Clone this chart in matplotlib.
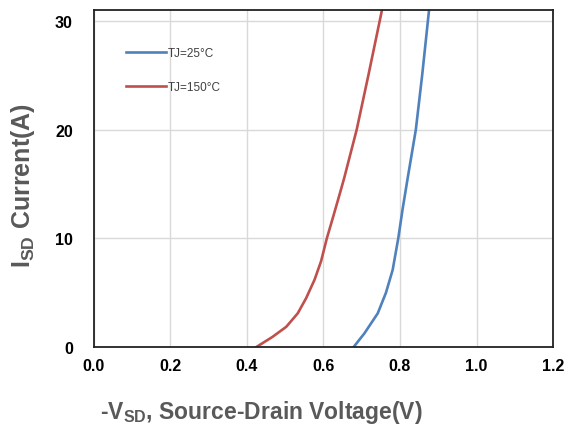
import matplotlib
matplotlib.use("Agg")
import matplotlib.pyplot as plt

plt.rcParams['font.family'] = ['Liberation Sans', 'DejaVu Sans']
plt.rcParams['mathtext.fontset'] = 'custom'
plt.rcParams['mathtext.rm'] = 'Liberation Sans'
plt.rcParams['mathtext.bf'] = 'Liberation Sans:bold'

# diode forward curves, current (A) vs -Vsd (V)
i_25 = [0, 1.25, 3.1, 5.0, 7.1, 10, 12.7, 15.5, 20, 25, 31]
v_25 = [0.679, 0.707, 0.742, 0.7635, 0.781, 0.7956, 0.807, 0.820, 0.8415, 0.858, 0.876]
i_150 = [0, 0.93, 1.86, 3.1, 4.5, 6.2, 7.9, 10, 11.8, 14.0, 15.5, 20, 25, 31]
v_150 = [0.425, 0.467, 0.503, 0.533, 0.555, 0.577, 0.594, 0.609, 0.624, 0.642, 0.654,
         0.687, 0.7175, 0.753]

labels = ["TJ=25°C", "TJ=150°C"]
colors = ["#4F81BD", "#C0504D"]

xticks = [0.0, 0.2, 0.4, 0.6, 0.8, 1.0, 1.2]
yticks = [0, 10, 20, 30]

fig = plt.figure(figsize=(5.69, 4.27), dpi=100)
ax = fig.add_axes([0.1647, 0.185, 0.8073, 0.789])

ax.plot(v_25, i_25, color=colors[0], lw=1.9, label=labels[0], solid_joinstyle='round')
ax.plot(v_150, i_150, color=colors[1], lw=1.9, label=labels[1], solid_joinstyle='round')

ax.set_xlim(0, 1.2)
ax.set_ylim(0, 31)
ax.set_xticks(xticks)
ax.set_xticklabels(["%.1f" % x for x in xticks])
ax.set_yticks(yticks)
ax.grid(True, color="#D9D9D9", lw=1.0)
ax.set_axisbelow(True)
for s in ax.spines.values():
    s.set_color("#222222")
    s.set_linewidth(1.3)
ax.tick_params(length=0, labelsize=11.5)
ax.tick_params(axis='x', pad=8)
ax.tick_params(axis='y', pad=15)
for t in ax.get_xticklabels() + ax.get_yticklabels():
    t.set_fontweight('bold')

leg = ax.legend(loc='upper left', bbox_to_anchor=(0.06, 0.905), frameon=False,
                fontsize=8.5, handlelength=3.4, handletextpad=0.15,
                labelspacing=1.85, borderaxespad=0)
for t in leg.get_texts():
    t.set_color("#404040")

fig.text(0.04, 0.565, r"$\mathbf{I_{SD}}$ Current(A)", rotation=90,
         ha='center', va='center', fontsize=18, fontweight='bold', color="#595959")
fig.text(0.176, 0.035, r"-$\mathbf{V_{SD}}$, Source-Drain Voltage(V)",
         ha='left', va='center', fontsize=16.5, fontweight='bold', color="#595959")

fig.savefig("out.png", dpi=100)
